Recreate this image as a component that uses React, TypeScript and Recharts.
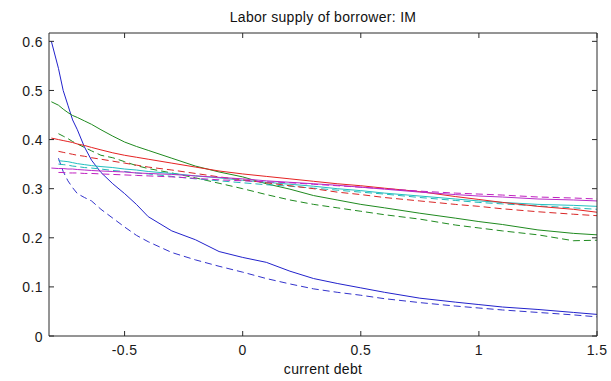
import React from 'react';
import { LineChart, Line, XAxis, YAxis } from 'recharts';

const xs = [-0.81, -0.78, -0.76, -0.74, -0.72, -0.7, -0.67, -0.64, -0.6, -0.55, -0.5, -0.45, -0.4, -0.3, -0.2, -0.1, 0, 0.1, 0.2, 0.3, 0.4, 0.5, 0.6, 0.75, 0.9, 1.0, 1.1, 1.25, 1.4, 1.5];

const blueSolid = [0.600, 0.545, 0.500, 0.470, 0.440, 0.420, 0.385, 0.358, 0.333, 0.310, 0.290, 0.268, 0.243, 0.214, 0.196, 0.172, 0.160, 0.150, 0.132, 0.117, 0.107, 0.098, 0.089, 0.077, 0.069, 0.064, 0.059, 0.054, 0.048, 0.044];
const blueDashed = [null, 0.362, 0.335, 0.316, 0.302, 0.290, 0.282, 0.275, 0.258, 0.240, 0.222, 0.205, 0.192, 0.170, 0.155, 0.142, 0.130, 0.117, 0.106, 0.096, 0.089, 0.083, 0.076, 0.068, 0.061, 0.057, 0.053, 0.048, 0.043, 0.039];
const greenSolid = [0.477, 0.470, 0.462, 0.455, 0.449, 0.445, 0.438, 0.431, 0.420, 0.407, 0.395, 0.386, 0.378, 0.362, 0.346, 0.334, 0.324, 0.310, 0.299, 0.286, 0.277, 0.268, 0.261, 0.250, 0.240, 0.233, 0.227, 0.216, 0.209, 0.206];
const greenDashed = [null, 0.412, 0.407, 0.402, 0.396, 0.391, 0.384, 0.377, 0.368, 0.363, 0.355, 0.347, 0.341, 0.332, 0.322, 0.311, 0.300, 0.288, 0.277, 0.268, 0.261, 0.254, 0.247, 0.238, 0.226, 0.220, 0.214, 0.206, 0.194, 0.195];
const redSolid = [0.403, 0.400, 0.398, 0.396, 0.394, 0.391, 0.388, 0.384, 0.379, 0.373, 0.368, 0.364, 0.360, 0.352, 0.344, 0.336, 0.330, 0.325, 0.320, 0.315, 0.310, 0.306, 0.301, 0.294, 0.284, 0.278, 0.272, 0.264, 0.258, 0.252];
const redDashed = [null, 0.376, 0.374, 0.372, 0.370, 0.368, 0.366, 0.363, 0.360, 0.356, 0.352, 0.348, 0.344, 0.338, 0.331, 0.324, 0.318, 0.312, 0.306, 0.300, 0.293, 0.288, 0.282, 0.275, 0.268, 0.264, 0.259, 0.253, 0.248, 0.245];
const cyanSolid = [null, 0.357, 0.356, 0.355, 0.353, 0.351, 0.349, 0.347, 0.345, 0.343, 0.340, 0.338, 0.335, 0.331, 0.326, 0.322, 0.317, 0.313, 0.309, 0.305, 0.300, 0.296, 0.291, 0.285, 0.279, 0.275, 0.272, 0.268, 0.266, 0.264];
const cyanDashed = [null, 0.350, 0.349, 0.348, 0.346, 0.345, 0.343, 0.342, 0.340, 0.337, 0.335, 0.332, 0.330, 0.325, 0.320, 0.316, 0.312, 0.308, 0.305, 0.301, 0.297, 0.293, 0.289, 0.282, 0.276, 0.272, 0.269, 0.265, 0.261, 0.258];
const magentaSolid = [0.342, 0.341, 0.341, 0.340, 0.340, 0.339, 0.338, 0.337, 0.336, 0.335, 0.334, 0.332, 0.331, 0.329, 0.326, 0.323, 0.320, 0.316, 0.313, 0.310, 0.307, 0.303, 0.299, 0.293, 0.288, 0.285, 0.283, 0.279, 0.277, 0.275];
const magentaDashed = [null, 0.333, 0.333, 0.332, 0.332, 0.332, 0.331, 0.331, 0.330, 0.329, 0.328, 0.327, 0.326, 0.324, 0.321, 0.318, 0.316, 0.314, 0.312, 0.309, 0.306, 0.303, 0.300, 0.295, 0.291, 0.289, 0.287, 0.283, 0.281, 0.279];

const xTicks = [-0.5, 0, 0.5, 1, 1.5];
const xTickLabels = ['-0.5', '0', '0.5', '1', '1.5'];
const yTicks = [0, 0.1, 0.2, 0.3, 0.4, 0.5, 0.6];
const yTickLabels = ['0', '0.1', '0.2', '0.3', '0.4', '0.5', '0.6'];

const title = 'Labor supply of borrower: IM';
const xLabel = 'current debt';

const seriesDefs = [
  { key: 'blueSolid', values: blueSolid, color: '#2222cc', dash: undefined },
  { key: 'blueDashed', values: blueDashed, color: '#3333cc', dash: '7 4' },
  { key: 'greenSolid', values: greenSolid, color: '#1f8a1f', dash: undefined },
  { key: 'greenDashed', values: greenDashed, color: '#1f8a1f', dash: '7 4' },
  { key: 'cyanSolid', values: cyanSolid, color: '#22c0c0', dash: undefined },
  { key: 'cyanDashed', values: cyanDashed, color: '#22b8b8', dash: '7 4' },
  { key: 'redSolid', values: redSolid, color: '#e52222', dash: undefined },
  { key: 'redDashed', values: redDashed, color: '#d92626', dash: '7 4' },
  { key: 'magentaSolid', values: magentaSolid, color: '#b82cc8', dash: undefined },
  { key: 'magentaDashed', values: magentaDashed, color: '#c020c0', dash: '7 4' },
];

const data = xs.map((x, i) => {
  const row: Record<string, number | null> = { x };
  seriesDefs.forEach((s) => {
    row[s.key] = s.values[i];
  });
  return row;
});

const FONT = '"Liberation Sans", Arial, Helvetica, sans-serif';
const AXIS = '#2a2a2a';
const TICK_LEN = 5;

const fmt = (v: number, ticks: number[], labels: string[]) => {
  const i = ticks.findIndex((t) => Math.abs(t - v) < 1e-9);
  return i >= 0 ? labels[i] : String(v);
};

const BottomTick = (props: any) => {
  const { x, y, payload } = props;
  return (
    <g>
      <line x1={x} x2={x} y1={y} y2={y - TICK_LEN} stroke={AXIS} strokeWidth={1} />
      <text x={x} y={y + 19} textAnchor="middle" fontSize={14} letterSpacing={0.4} fontFamily={FONT} fill="#1a1a1a">
        {fmt(payload.value, xTicks, xTickLabels)}
      </text>
    </g>
  );
};

const TopTick = (props: any) => {
  const { x, y } = props;
  return <line x1={x} x2={x} y1={y} y2={y + TICK_LEN} stroke={AXIS} strokeWidth={1} />;
};

const LeftTick = (props: any) => {
  const { x, y, payload } = props;
  return (
    <g>
      <line x1={x} x2={x + TICK_LEN} y1={y} y2={y} stroke={AXIS} strokeWidth={1} />
      <text x={x - 6} y={y + 5.5} textAnchor="end" fontSize={14} letterSpacing={0.4} fontFamily={FONT} fill="#1a1a1a">
        {fmt(payload.value, yTicks, yTickLabels)}
      </text>
    </g>
  );
};

const RightTick = (props: any) => {
  const { x, y } = props;
  return <line x1={x} x2={x - TICK_LEN} y1={y} y2={y} stroke={AXIS} strokeWidth={1} />;
};

const X_DOMAIN: [number, number] = [-0.82, 1.5];
const Y_DOMAIN: [number, number] = [0, 0.617];

export default function App() {
  return (
    <div style={{ position: 'absolute', left: 0, top: 0, width: 611, height: 381, background: '#fff' }}>
      <div
        style={{
          position: 'absolute',
          left: 49,
          width: 548,
          top: 9,
          textAlign: 'center',
          fontFamily: FONT,
          fontSize: 14,
          letterSpacing: 0.3,
          color: '#111',
        }}
      >
        {title}
      </div>
      <div style={{ position: 'absolute', left: 0, top: 0 }}>
        <LineChart
          width={611}
          height={381}
          data={data}
          margin={{ top: 0, right: 0, bottom: 0, left: 0 }}
        >
          <XAxis
            xAxisId="b"
            dataKey="x"
            type="number"
            domain={X_DOMAIN}
            ticks={xTicks}
            allowDataOverflow
            height={45}
            tickSize={0}
            tickMargin={0}
            tickLine={false}
            axisLine={{ stroke: AXIS }}
            tick={<BottomTick />}
            interval={0}
          />
          <XAxis
            xAxisId="t"
            orientation="top"
            dataKey="x"
            type="number"
            domain={X_DOMAIN}
            ticks={xTicks}
            allowDataOverflow
            height={33}
            tickSize={0}
            tickMargin={0}
            tickLine={false}
            axisLine={{ stroke: AXIS }}
            tick={<TopTick />}
            interval={0}
          />
          <YAxis
            yAxisId="l"
            type="number"
            domain={Y_DOMAIN}
            ticks={yTicks}
            allowDataOverflow
            width={49}
            tickSize={0}
            tickMargin={0}
            tickLine={false}
            axisLine={{ stroke: AXIS }}
            tick={<LeftTick />}
            interval={0}
          />
          <YAxis
            yAxisId="r"
            orientation="right"
            type="number"
            domain={Y_DOMAIN}
            ticks={yTicks}
            allowDataOverflow
            width={14}
            tickSize={0}
            tickMargin={0}
            tickLine={false}
            axisLine={{ stroke: AXIS }}
            tick={<RightTick />}
            interval={0}
          />
          {seriesDefs.map((s) => (
            <Line
              key={s.key}
              xAxisId="b"
              yAxisId="l"
              type="linear"
              dataKey={s.key}
              stroke={s.color}
              strokeWidth={1}
              strokeDasharray={s.dash}
              dot={false}
              activeDot={false}
              connectNulls
              isAnimationActive={false}
            />
          ))}
        </LineChart>
      </div>
      <div
        style={{
          position: 'absolute',
          left: 49,
          width: 548,
          top: 361,
          textAlign: 'center',
          fontFamily: FONT,
          fontSize: 14,
          letterSpacing: 0.3,
          color: '#111',
        }}
      >
        {xLabel}
      </div>
    </div>
  );
}
